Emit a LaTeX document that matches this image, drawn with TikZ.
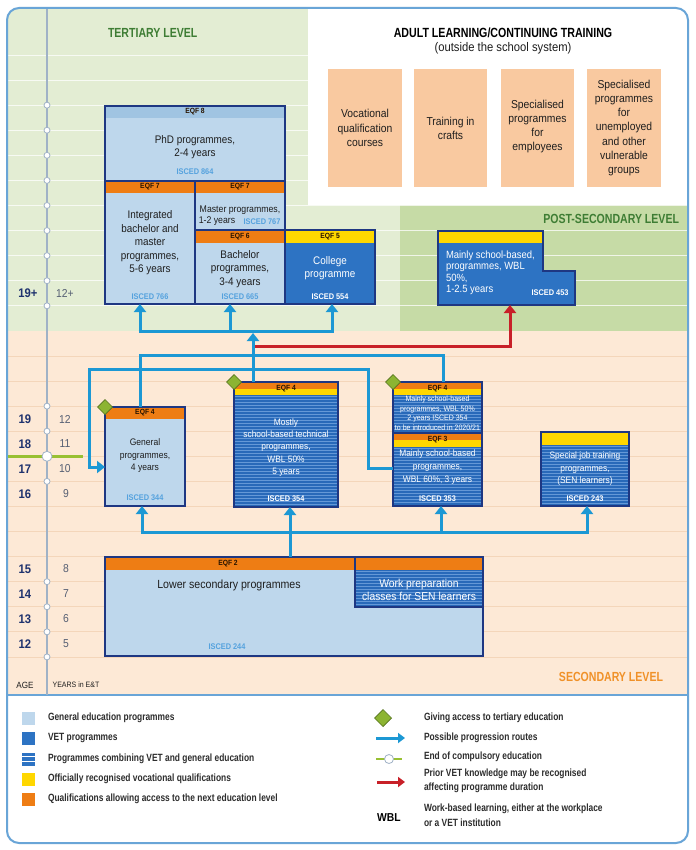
\documentclass[tikz,border=0pt]{standalone}
\usepackage{fontspec}
\setmainfont{Liberation Sans}[FakeStretch=0.9]
\newfontfamily\condfont{Liberation Sans}[FakeStretch=0.8]
\usetikzlibrary{arrows.meta,fit,shapes.geometric}

\definecolor{frameblue}{RGB}{105,165,215}
\definecolor{greenbg}{RGB}{227,237,211}
\definecolor{postbg}{RGB}{198,219,166}
\definecolor{pinkbg}{RGB}{253,233,214}
\definecolor{gridpc}{RGB}{244,214,186}
\definecolor{axisc}{RGB}{160,178,198}
\definecolor{navyc}{RGB}{30,55,130}
\definecolor{genblue}{RGB}{190,215,236}
\definecolor{eqfeight}{RGB}{160,196,226}
\definecolor{vetblue}{RGB}{45,115,195}
\definecolor{stripebase}{RGB}{40,105,185}
\definecolor{stripelc}{RGB}{100,152,215}
\definecolor{orangec}{RGB}{238,125,20}
\definecolor{yellowc}{RGB}{255,215,0}
\definecolor{flowblue}{RGB}{28,152,212}
\definecolor{redc}{RGB}{200,32,40}
\definecolor{limec}{RGB}{152,192,50}
\definecolor{diamc}{RGB}{140,180,50}
\definecolor{diamdark}{RGB}{85,115,30}
\definecolor{peachc}{RGB}{249,201,160}
\definecolor{iscedc}{RGB}{85,162,222}
\definecolor{titlegreen}{RGB}{62,125,52}
\definecolor{titleorange}{RGB}{240,145,40}
\definecolor{agec}{RGB}{30,50,110}
\definecolor{yearc}{RGB}{85,95,115}
\definecolor{textc}{RGB}{30,30,30}
\definecolor{legc}{RGB}{45,45,45}
\definecolor{eqfc}{RGB}{40,20,0}

\tikzset{
  every node/.style={inner sep=0pt, outer sep=0pt},
  boxfit/.style={inner sep=0pt, outer sep=0pt, rectangle},
  boxline/.style={draw=navyc, line width=1.8pt},
  gridg/.style={draw=white, opacity=0.75, line width=0.8pt},
  gridp/.style={draw=gridpc, line width=0.8pt},
  axisline/.style={draw=axisc, line width=1.1pt},
  tick/.style={circle, fill=white, draw=axisc, line width=0.8pt, minimum size=6pt},
  bigtick/.style={circle, fill=white, draw=axisc, line width=0.8pt, minimum size=10pt},
  limeline/.style={draw=limec, line width=2.6pt},
  stripeline/.style={draw=stripelc, line width=1pt},
  btext/.style={align=center, text=textc, font=\fontsize{11}{13.5}\selectfont},
  btextw/.style={btext, text=white},
  stext/.style={align=center, text=textc, font=\fontsize{9.5}{12.5}\selectfont},
  stextw/.style={stext, text=white},
  eqf/.style={font=\bfseries\fontsize{7.5}{8}\selectfont, text=eqfc},
  isced/.style={font=\bfseries\fontsize{8.2}{9}\selectfont, text=iscedc},
  iscedw/.style={isced, text=white},
  adultbox/.style={boxfit, fill=peachc},
  atext/.style={align=center, text=textc, font=\fontsize{11.5}{14.2}\selectfont},
  heading/.style={font=\condfont\bfseries\fontsize{13.2}{15}\selectfont},
  agelab/.style={font=\bfseries\fontsize{12.5}{13}\selectfont, text=agec},
  yearlab/.style={font=\fontsize{11.5}{13}\selectfont, text=yearc},
  diamondmark/.style={diamond, aspect=1, minimum size=15pt, fill=diamc, draw=diamdark, line width=0.7pt},
  flow/.style={draw=flowblue, line width=3pt},
  flowarrow/.style={flow, -{Triangle[width=12pt,length=8pt]}},
  redarrow/.style={draw=redc, line width=3pt, -{Triangle[width=12pt,length=8pt]}},
  lsq/.style={rectangle, minimum size=13pt},
  legtext/.style={anchor=west, text=legc, align=left, font=\condfont\bfseries\fontsize{10.5}{14.5}\selectfont}
}

\newcommand{\hstripes}[4]{%
  \begin{scope}
    \clip (#1,#2) rectangle (#3,#4);
    \foreach \k in {0,...,45}{\draw[stripeline] (#1,{#2+1.5+3*\k}) -- (#3,{#2+1.5+3*\k});}
  \end{scope}}

\begin{document}
\begin{tikzpicture}[x=1pt,y=-1pt]
\useasboundingbox (0,0) rectangle (695,850);
\fill[white] (0,0) rectangle (695,850);

% backgrounds
\begin{scope}
  \clip[rounded corners=12pt] (7,8) rectangle (688,843);
  \fill[white] (7,8) rectangle (688,843);
  \fill[greenbg] (7,8) rectangle (308,331);
  \fill[greenbg] (308,205) rectangle (400,331);
  \fill[postbg] (400,205) rectangle (688,331);
  \fill[pinkbg] (7,331) rectangle (688,695);
  \foreach \k in {0,...,5}{\draw[gridg] (7,{55+25.08*\k}) -- (308,{55+25.08*\k});}
  \foreach \k in {6,...,10}{\draw[gridg] (7,{55+25.08*\k}) -- (688,{55+25.08*\k});}
  \foreach \k in {12,...,24}{\draw[gridp] (7,{55+25.08*\k}) -- (688,{55+25.08*\k});}
\end{scope}
\draw[frameblue, line width=1.5pt] (7,695) -- (688,695);
\draw[frameblue, line width=2pt, rounded corners=12pt] (7,8) rectangle (688,843);

% axis
\draw[axisline] (47,9) -- (47,695);
\foreach \k in {2,3,4,5,6,7,8,9,10,14,15,17,21,22,23,24}{\node[tick] (tk\k) at (47,{55+25.08*\k}) {};}
\draw[limeline] (8,456.3) -- (83,456.3);
\node[bigtick] (endc) at (47,456.3) {};

% ages and years
\node[agelab] (a19p) at (28,293) {19+};
\node[yearlab] (y12p) at (65,293) {12+};
\node[agelab] (a19) at (25,419) {19};
\node[agelab] (a18) at (25,444) {18};
\node[agelab] (a17) at (25,469) {17};
\node[agelab] (a16) at (25,494) {16};
\node[yearlab] (y12) at (65,419) {12};
\node[yearlab] (y11) at (65,444) {11};
\node[yearlab] (y10) at (65,469) {10};
\node[yearlab] (y9) at (66,494) {9};
\node[agelab] (a15) at (25,569) {15};
\node[agelab] (a14) at (25,594) {14};
\node[agelab] (a13) at (25,619) {13};
\node[agelab] (a12) at (25,644) {12};
\node[yearlab] (y8) at (66,569) {8};
\node[yearlab] (y7) at (66,594) {7};
\node[yearlab] (y6) at (66,619) {6};
\node[yearlab] (y5) at (66,644) {5};
\node[font=\fontsize{9}{10}\selectfont, text=textc] (agehd) at (25,685) {AGE};
\node[font=\fontsize{7.8}{9}\selectfont, text=textc] (yearhd) at (76,685) {YEARS in E\&T};

% headings
\node[heading, text=titlegreen, anchor=west] (tert) at (108,33) {TERTIARY LEVEL};
\node[heading, text=titlegreen, anchor=east] (posth) at (679,219) {POST-SECONDARY LEVEL};
\node[heading, text=titleorange, anchor=east] (sech) at (663,677) {SECONDARY LEVEL};

% adult learning
\node[font=\condfont\bfseries\fontsize{13.3}{15}\selectfont, text=black] (adt) at (503,33) {ADULT LEARNING/CONTINUING TRAINING};
\node[font=\fontsize{12.5}{14}\selectfont, text=textc] (ads) at (503,48) {(outside the school system)};
\node[adultbox, fit={(328,69)(402,187)}] (ad1) {};
\node[adultbox, fit={(414,69)(487,187)}] (ad2) {};
\node[adultbox, fit={(501,69)(574,187)}] (ad3) {};
\node[adultbox, fit={(587,69)(661,187)}] (ad4) {};
\node[atext] (ad1t) at (ad1.center) {Vocational\\qualification\\courses};
\node[atext] (ad2t) at (ad2.center) {Training in\\crafts};
\node[atext] (ad3t) at ([yshift=1.5pt]ad3.center) {Specialised\\programmes\\for\\employees};
\node[atext] (ad4t) at (ad4.center) {Specialised\\programmes\\for\\unemployed\\and other\\vulnerable\\groups};

% ---------- tertiary boxes
\node[boxfit, fill=genblue, fit={(105,106)(285,181)}] (phd) {};
\fill[eqfeight] (105,106) rectangle (285,118);
\node[eqf] (phdq) at (195,112) {EQF 8};
\node[btext] (phdt) at (195,147) {PhD programmes,\\2-4 years};
\node[isced] (phdi) at (195,172) {ISCED 864};
\draw[boxline] (phd.north west) rectangle (phd.south east);

\node[boxfit, fill=genblue, fit={(105,181)(195,304)}] (integ) {};
\fill[orangec] (105,181) rectangle (195,193);
\node[eqf] (integq) at (150,187) {EQF 7};
\node[btext] (integt) at (150,243) {Integrated\\bachelor and\\master\\programmes,\\5-6 years};
\node[isced] (integi) at (150,297) {ISCED 766};
\draw[boxline] (integ.north west) rectangle (integ.south east);

\node[boxfit, fill=genblue, fit={(195,181)(285,230)}] (master) {};
\fill[orangec] (195,181) rectangle (285,193);
\node[eqf] (masterq) at (240,187) {EQF 7};
\node[font=\fontsize{9.7}{12}\selectfont, text=textc] (mastert) at (240,210) {Master programmes,};
\node[font=\fontsize{9.7}{12}\selectfont, text=textc] (mastert2) at (217,221.5) {1-2 years};
\node[isced] (masteri) at (262,221.5) {ISCED 767};
\draw[boxline] (master.north west) rectangle (master.south east);

\node[boxfit, fill=genblue, fit={(195,230)(285,304)}] (bach) {};
\fill[orangec] (195,230) rectangle (285,243);
\node[eqf] (bachq) at (240,236.5) {EQF 6};
\node[btext] (bacht) at (240,269) {Bachelor\\programmes,\\3-4 years};
\node[isced] (bachi) at (240,297) {ISCED 665};
\draw[boxline] (bach.north west) rectangle (bach.south east);

\node[boxfit, fill=vetblue, fit={(285,230)(375,304)}] (college) {};
\fill[yellowc] (285,230) rectangle (375,243);
\node[eqf] (collq) at (330,236.5) {EQF 5};
\node[btextw] (collt) at (330,268) {College\\programme};
\node[iscedw] (colli) at (330,297) {ISCED 554};
\draw[boxline] (college.north west) rectangle (college.south east);

% post-secondary
\node[boxfit, fit={(438,231)(575,305)}] (postsec) {};
\fill[vetblue] (438,231) -- (543,231) -- (543,271) -- (575,271) -- (575,305) -- (438,305) -- cycle;
\fill[yellowc] (438,231) rectangle (543,243);
\node[btextw, align=left, anchor=west, font=\fontsize{10.5}{11.5}\selectfont] (postt) at (446,273) {Mainly school-based,\\programmes, WBL\\50\%,\\1-2.5 years};
\node[iscedw] (posti) at (550,293) {ISCED 453};
\draw[boxline] (438,231) -- (543,231) -- (543,271) -- (575,271) -- (575,305) -- (438,305) -- cycle;

% ---------- secondary boxes
\node[boxfit, fill=genblue, fit={(105,407)(185,506)}] (general) {};
\fill[orangec] (105,407) rectangle (185,419);
\node[eqf] (genq) at (145,413) {EQF 4};
\node[stext] (gent) at (145,456) {General\\programmes,\\4 years};
\node[isced] (geni) at (145,498) {ISCED 344};
\draw[boxline] (general.north west) rectangle (general.south east);

\node[boxfit, fill=stripebase, fit={(234,382)(338,507)}] (mostly) {};
\hstripes{234}{395}{338}{507}
\fill[orangec] (234,382) rectangle (338,389);
\fill[yellowc] (234,389) rectangle (338,395);
\node[eqf] (mostq) at (286,389) {EQF 4};
\node[stextw, font=\fontsize{9.3}{12.2}\selectfont] (mostt) at (286,447.5) {Mostly\\school-based technical\\programmes,\\WBL 50\%\\5 years};
\node[iscedw] (mosti) at (286,499) {ISCED 354};
\draw[boxline] (mostly.north west) rectangle (mostly.south east);

\node[boxfit, fill=stripebase, fit={(393,382)(482,433)}] (mainlyf) {};
\hstripes{393}{395}{482}{433}
\fill[orangec] (393,382) rectangle (482,389);
\fill[yellowc] (393,389) rectangle (482,395);
\node[eqf] (mfq) at (437.5,389) {EQF 4};
\node[stextw, font=\fontsize{7.8}{9.5}\selectfont] (mft) at (437.5,413) {Mainly school-based\\programmes, WBL 50\%\\2 years ISCED 354\\to be introduced in 2020/21};
\draw[boxline] (mainlyf.north west) rectangle (mainlyf.south east);

\node[boxfit, fill=stripebase, fit={(393,433)(482,506)}] (mainlyt) {};
\hstripes{393}{447}{482}{506}
\fill[orangec] (393,433) rectangle (482,440);
\fill[yellowc] (393,440) rectangle (482,447);
\node[eqf] (mtq) at (437.5,440) {EQF 3};
\node[stextw, font=\fontsize{9.3}{12.8}\selectfont] (mtt) at (437.5,467) {Mainly school-based\\programmes,\\WBL 60\%, 3 years};
\node[iscedw] (mti) at (437.5,499) {ISCED 353};
\draw[boxline] (mainlyt.north west) rectangle (mainlyt.south east);

\node[boxfit, fill=stripebase, fit={(541,432)(629,506)}] (special) {};
\hstripes{541}{445}{629}{506}
\fill[yellowc] (541,432) rectangle (629,445);
\node[stextw, font=\fontsize{9.3}{12.5}\selectfont] (spt) at (585,469) {Special job training\\programmes,\\(SEN learners)};
\node[iscedw] (spi) at (585,499) {ISCED 243};
\draw[boxline] (special.north west) rectangle (special.south east);

\node[boxfit, fill=genblue, fit={(105,557)(483,656)}] (lowsec) {};
\node[boxfit, fill=stripebase, fit={(355,557)(483,607)}] (workprep) {};
\hstripes{355}{570}{483}{607}
\fill[orangec] (105,557) rectangle (483,570);
\node[eqf] (lowq) at (228,563.5) {EQF 2};
\node[btext, font=\fontsize{11.8}{13}\selectfont] (lowt) at (229,585) {Lower secondary programmes};
\node[btextw, font=\fontsize{11.5}{13}\selectfont] (wpt) at (419,589.5) {Work preparation\\classes for SEN learners};
\node[isced] (lowi) at (227,647) {ISCED 244};
\draw[boxline] (workprep.north west) rectangle (workprep.south east);
\draw[boxline] (lowsec.north west) rectangle (lowsec.south east);

% diamonds
\node[diamondmark] (dg) at (105,407) {};
\node[diamondmark] (dm) at (234,382) {};
\node[diamondmark] (dmf) at (393,382) {};

% ---------- connectors
\coordinate (jA) at (253,333);
\coordinate (jL) at (140,331);
\coordinate (jM) at (230,331);
\coordinate (jR) at (332,331);
\coordinate (r1) at (255,346);
\coordinate (r2) at (510,346);
\draw[redarrow] (r1) -- (r2) -- (postsec.south -| r2);
\draw[flowarrow] (mostly.north -| jA) -- (jA);
\draw[flow] ([xshift=-1.5pt]jL) -- ([xshift=1.5pt]jR);
\draw[flowarrow] (jL) -- (integ.south -| jL);
\draw[flowarrow] (jM) -- (bach.south -| jM);
\draw[flowarrow] (jR) -- (college.south -| jR);

\coordinate (g1) at (140,355);
\coordinate (g2) at (443,355);
\draw[flow] (general.north -| g1) -- (g1) -- (g2) -- (mainlyf.north -| g2);

\coordinate (h1) at (368,468);
\coordinate (h2) at (368,369);
\coordinate (h3) at (89,369);
\coordinate (h4) at (89,467);
\draw[flowarrow] (mainlyt.west |- h1) -- (h1) -- (h2) -- (h3) -- (h4) -- (general.west |- h4);

\coordinate (b0) at (290,532);
\coordinate (b1) at (142,532);
\coordinate (b2) at (587,532);
\coordinate (b3) at (441,532);
\draw[flow] (lowsec.north -| b0) -- (b0);
\draw[flow] ([xshift=-1.5pt]b1) -- ([xshift=1.5pt]b2);
\draw[flowarrow] (b1) -- (general.south -| b1);
\draw[flowarrow] (b0) -- (mostly.south -| b0);
\draw[flowarrow] (b3) -- (mainlyt.south -| b3);
\draw[flowarrow] (b2) -- (special.south -| b2);

% ---------- legend
\node[lsq, fill=genblue] (lg1) at (28.5,718) {};
\node[lsq, fill=vetblue] (lg2) at (28.5,738) {};
\node[lsq, fill=vetblue] (lg3) at (28.5,759) {};
\draw[white, line width=1.1pt] (lg3.west |- 0,756.8) -- (lg3.east |- 0,756.8);
\draw[white, line width=1.1pt] (lg3.west |- 0,761.2) -- (lg3.east |- 0,761.2);
\node[lsq, fill=yellowc] (lg4) at (28.5,779) {};
\node[lsq, fill=orangec] (lg5) at (28.5,799) {};
\node[legtext] (lt1) at (48,718) {General education programmes};
\node[legtext] (lt2) at (48,738) {VET programmes};
\node[legtext] (lt3) at (48,759) {Programmes combining VET and general education};
\node[legtext] (lt4) at (48,779) {Officially recognised vocational qualifications};
\node[legtext] (lt5) at (48,799) {Qualifications allowing access to the next education level};

\node[diamondmark, minimum size=17pt] (lgd) at (383,718) {};
\coordinate (la1) at (376,738);
\coordinate (la2) at (405,738);
\draw[flowarrow, -{Triangle[width=10pt,length=7pt]}] (la1) -- (la2);
\draw[limeline, line width=2.4pt] (376,759) -- (402,759);
\node[bigtick, minimum size=9pt] (lgc) at (389,759) {};
\coordinate (lr1) at (377,782);
\coordinate (lr2) at (405,782);
\draw[redarrow, -{Triangle[width=10pt,length=7pt]}] (lr1) -- (lr2);
\node[font=\bfseries\fontsize{11.5}{12}\selectfont, text=black] (wbl) at (389,818) {WBL};
\node[legtext] (rt1) at (424,718) {Giving access to tertiary education};
\node[legtext] (rt2) at (424,738) {Possible progression routes};
\node[legtext] (rt3) at (424,757) {End of compulsory education};
\node[legtext] (rt4) at (424,781) {Prior VET knowledge may be recognised\\affecting programme duration};
\node[legtext] (rt5) at (424,815) {Work-based learning, either at the workplace\\or a VET institution};
\end{tikzpicture}
\end{document}
